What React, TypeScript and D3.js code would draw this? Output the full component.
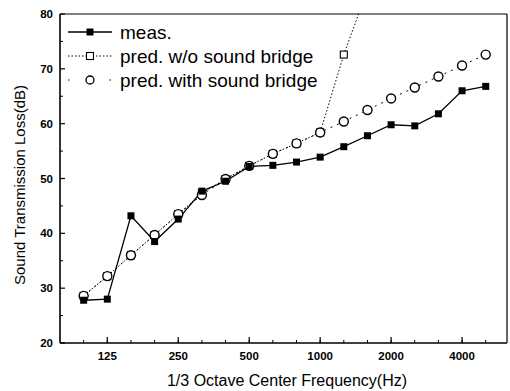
import React from "react";
import * as d3 from "d3";

const bands = [100, 125, 160, 200, 250, 315, 400, 500, 630, 800, 1000, 1250, 1600, 2000, 2500, 3150, 4000, 5000];
const measured = [27.8, 28.0, 43.2, 38.5, 42.6, 47.7, 49.5, 52.2, 52.4, 53.0, 53.9, 55.8, 57.8, 59.8, 59.6, 61.8, 66.0, 66.8];
const predWith = [28.6, 32.2, 36.0, 39.7, 43.5, 47.0, 49.9, 52.3, 54.5, 56.4, 58.4, 60.4, 62.5, 64.6, 66.6, 68.6, 70.6, 72.6];
const predWithout = [28.6, 32.2, 36.0, 39.7, 43.5, 47.3, 49.9, 52.3, 54.5, 56.4, 58.4, 72.6, 84.4];
const xTickLabels = ["125", "250", "500", "1000", "2000", "4000"];
const yTicks = [20, 30, 40, 50, 60, 70, 80];
const yMinorTicks = [25, 35, 45, 55, 65, 75];

const W = 510;
const H = 391;
const L = 60, R = 507, T = 14, B = 343;
const FONT = "'Liberation Sans', Arial, Helvetica, sans-serif";

export default function App() {
  const x = d3.scaleLinear().domain([-1, 17.9]).range([L, R]);
  const y = d3.scaleLinear().domain([20, 80]).range([B, T]);
  const line = d3.line<number>().x((_, i) => x(i)).y((d) => y(d));

  const idx = (f: string) => bands.indexOf(+f);

  return (
    <svg width={W} height={H} style={{ position: "absolute", left: 0, top: 0, background: "#fff" }}>
      <defs>
        <clipPath id="plot">
          <rect x={L} y={T} width={R - L} height={B - T} />
        </clipPath>
      </defs>
      {/* frame */}
      <line x1={L} x2={R} y1={T} y2={T} stroke="#000" strokeWidth={1.2} />
      <line x1={R} x2={R} y1={T} y2={B} stroke="#000" strokeWidth={1.2} />
      <line x1={L} x2={L} y1={T} y2={B} stroke="#000" strokeWidth={1.6} />
      <line x1={L} x2={R} y1={B} y2={B} stroke="#000" strokeWidth={1.6} />

      {/* y ticks */}
      {yTicks.map((t) => (
        <g key={"y" + t}>
          <line x1={L} x2={L + 5} y1={y(t)} y2={y(t)} stroke="#000" strokeWidth={1.2} />
          <text x={L - 7} y={y(t)} dy="0.35em" textAnchor="end" fontFamily={FONT} fontSize={11.5} fontWeight="bold">
            {t}
          </text>
        </g>
      ))}
      {yMinorTicks.map((t) => (
        <line key={"ym" + t} x1={L} x2={L + 3} y1={y(t)} y2={y(t)} stroke="#000" strokeWidth={1} />
      ))}

      {/* x ticks */}
      {bands.map((f, i) => (
        <line key={"x" + f} x1={x(i)} x2={x(i)} y1={B} y2={B - 3} stroke="#000" strokeWidth={1} />
      ))}
      {xTickLabels.map((f) => (
        <g key={"xl" + f}>
          <line x1={x(idx(f))} x2={x(idx(f))} y1={B} y2={B - 6} stroke="#000" strokeWidth={1.2} />
          <text x={x(idx(f))} y={B + 17} textAnchor="middle" fontFamily={FONT} fontSize={11.5} fontWeight="bold">
            {f}
          </text>
        </g>
      ))}

      {/* axis titles */}
      <text x={287} y={386} textAnchor="middle" fontFamily={FONT} fontSize={16}>
        1/3 Octave Center Frequency(Hz)
      </text>
      <text
        transform={`translate(25,185) rotate(-90)`}
        textAnchor="middle"
        fontFamily={FONT}
        fontSize={15}
      >
        Sound Transmission Loss(dB)
      </text>

      <g clipPath="url(#plot)">
        {/* pred without bridge */}
        <path d={line(predWithout) || ""} fill="none" stroke="#000" strokeWidth={1} strokeDasharray="1.5,2" />
        {/* pred with bridge */}
        <path d={line(predWith) || ""} fill="none" stroke="#000" strokeWidth={1} strokeDasharray="2,5" />
        {/* measured */}
        <path d={line(measured) || ""} fill="none" stroke="#000" strokeWidth={1.3} />
        {predWithout.map((v, i) => (
          <rect key={"pw" + i} x={x(i) - 3.5} y={y(v) - 3.5} width={7} height={7} fill="#fff" stroke="#000" strokeWidth={1.1} />
        ))}
        {predWith.map((v, i) => (
          <circle key={"pc" + i} cx={x(i)} cy={y(v)} r={4.5} fill="#fff" stroke="#000" strokeWidth={1.4} />
        ))}
        {measured.map((v, i) => (
          <rect key={"m" + i} x={x(i) - 3.5} y={y(v) - 3.5} width={7} height={7} fill="#000" />
        ))}
      </g>

      {/* legend */}
      <g fontFamily={FONT} fontSize={19}>
        <line x1={68} x2={112} y1={32} y2={32} stroke="#000" strokeWidth={1.3} />
        <rect x={86.5} y={28.5} width={7} height={7} fill="#000" />
        <text x={120} y={32} dy="0.35em">meas.</text>

        <line x1={68} x2={112} y1={56} y2={56} stroke="#000" strokeWidth={1} strokeDasharray="1.5,2" />
        <rect x={86.5} y={52.5} width={7} height={7} fill="#fff" stroke="#000" strokeWidth={1.1} />
        <text x={120} y={56} dy="0.35em">pred. w/o sound bridge</text>

        <line x1={68} x2={112} y1={80} y2={80} stroke="#000" strokeWidth={1} strokeDasharray="1.5,40" />
        <circle cx={90} cy={80} r={4} fill="#fff" stroke="#000" strokeWidth={1.3} />
        <text x={120} y={80} dy="0.35em">pred. with sound bridge</text>
      </g>
    </svg>
  );
}
